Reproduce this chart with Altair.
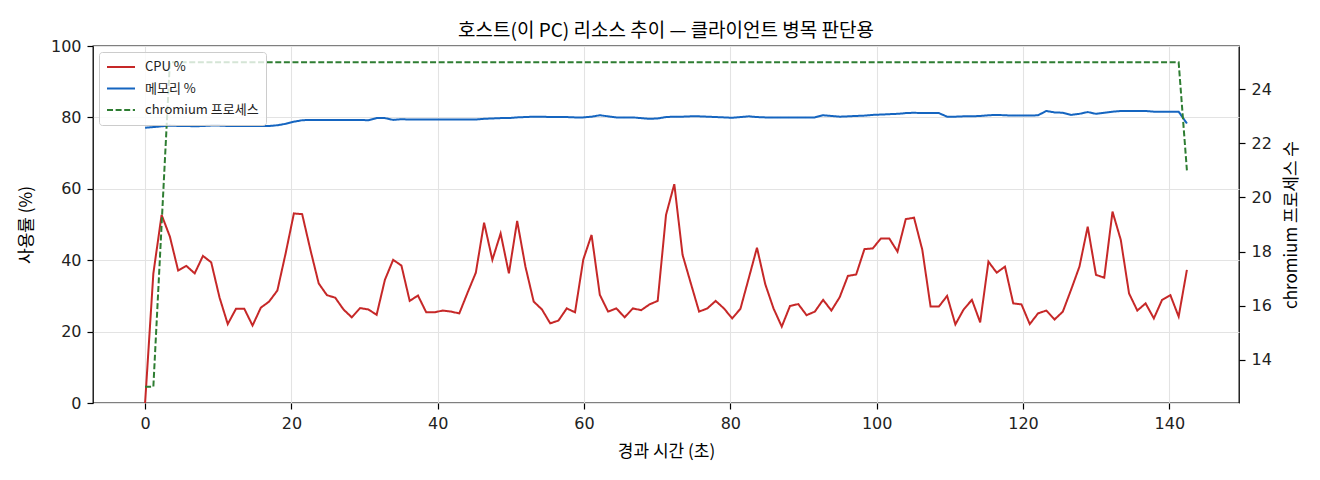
import pandas as pd
import altair as alt

FONT = "Noto Sans CJK KR"
NUM_FONT = "DejaVu Sans"

# elapsed seconds for each sample
elapsed = [
    0.0, 1.13, 2.26, 3.39, 4.52, 5.65, 6.78, 7.91, 9.04, 10.17,
    11.30, 12.43, 13.56, 14.69, 15.82, 16.95, 18.08, 19.21, 20.34, 21.47,
    22.60, 23.73, 24.86, 25.99, 27.12, 28.25, 29.39, 30.52, 31.65, 32.78,
    33.91, 35.04, 36.17, 37.30, 38.43, 39.56, 40.69, 41.82, 42.95, 44.08,
    45.21, 46.34, 47.47, 48.60, 49.73, 50.86, 51.99, 53.12, 54.25, 55.38,
    56.51, 57.64, 58.77, 59.90, 61.03, 62.16, 63.29, 64.42, 65.55, 66.68,
    67.81, 68.94, 70.07, 71.21, 72.34, 73.47, 74.60, 75.73, 76.86, 77.99,
    79.12, 80.25, 81.38, 82.51, 83.64, 84.77, 85.90, 87.03, 88.16, 89.29,
    90.42, 91.55, 92.68, 93.81, 94.94, 96.07, 97.20, 98.33, 99.46, 100.59,
    101.72, 102.85, 103.98, 105.11, 106.24, 107.37, 108.50, 109.63, 110.76, 111.89,
    113.02, 114.15, 115.28, 116.41, 117.54, 118.67, 119.80, 120.93, 122.06, 123.19,
    124.32, 125.45, 126.59, 127.72, 128.85, 129.98, 131.11, 132.24, 133.37, 134.50,
    135.63, 136.76, 137.89, 139.02, 140.15, 141.28, 142.41,
]

cpu = [
    0.0, 36.3, 52.7, 46.6, 37.1, 38.4, 36.3, 41.2, 39.4, 29.6,
    22.1, 26.4, 26.4, 21.7, 26.7, 28.4, 31.5, 41.9, 53.1, 52.9,
    42.9, 33.5, 30.2, 29.5, 26.2, 24.0, 26.6, 26.2, 24.7, 34.5,
    40.1, 38.5, 28.6, 30.1, 25.4, 25.4, 25.9, 25.6, 25.1, 30.9,
    36.5, 50.5, 40.1, 47.5, 36.3, 51.0, 38.2, 28.4, 26.2, 22.3,
    23.1, 26.5, 25.4, 40.2, 47.1, 30.3, 25.6, 26.5, 24.0, 26.5,
    26.0, 27.6, 28.6, 52.7, 61.3, 41.5, 33.5, 25.6, 26.5, 28.6,
    26.5, 23.7, 26.4, 34.9, 43.5, 33.3, 26.5, 21.4, 27.2, 27.7,
    24.6, 25.6, 28.9, 25.9, 29.6, 35.6, 36.0, 43.1, 43.3, 46.1,
    46.1, 42.4, 51.5, 51.9, 42.9, 27.0, 27.0, 30.0, 22.0, 26.2,
    28.9, 22.6, 39.6, 36.5, 38.2, 27.9, 27.6, 22.1, 25.1, 25.9,
    23.4, 25.6, 31.8, 38.2, 49.4, 35.9, 35.1, 53.6, 45.7, 30.7,
    25.9, 27.9, 23.7, 28.9, 30.2, 24.2, 37.3,
]

memory = [
    77.1, 77.3, 77.5, 77.7, 77.6, 77.6, 77.5, 77.6, 77.7, 77.7,
    77.6, 77.6, 77.6, 77.6, 77.6, 77.6, 77.8, 78.2, 78.8, 79.2,
    79.3, 79.3, 79.3, 79.3, 79.3, 79.3, 79.3, 79.2, 79.8, 79.8,
    79.3, 79.5, 79.4, 79.4, 79.4, 79.4, 79.4, 79.4, 79.4, 79.4,
    79.4, 79.6, 79.7, 79.8, 79.8, 80.0, 80.1, 80.2, 80.2, 80.1,
    80.1, 80.1, 80.0, 80.0, 80.2, 80.6, 80.3, 80.0, 80.0, 80.0,
    79.8, 79.6, 79.7, 80.1, 80.2, 80.2, 80.3, 80.3, 80.2, 80.1,
    80.0, 79.9, 80.1, 80.3, 80.1, 80.0, 80.0, 80.0, 80.0, 80.0,
    80.0, 80.0, 80.6, 80.4, 80.2, 80.3, 80.4, 80.5, 80.7, 80.8,
    80.9, 81.0, 81.2, 81.3, 81.2, 81.2, 81.2, 80.2, 80.2, 80.3,
    80.3, 80.4, 80.6, 80.7, 80.6, 80.5, 80.5, 80.5, 80.6, 81.8,
    81.4, 81.3, 80.7, 81.0, 81.5, 81.0, 81.3, 81.6, 81.8, 81.8,
    81.8, 81.8, 81.6, 81.6, 81.6, 81.6, 78.3,
]

chromium = [13, 13, 19] + [25] * 123 + [21]

series_names = ["CPU %", "메모리 %", "chromium 프로세스"]
series_colors = ["#c62828", "#1565c0", "#2e7d32"]
series_dash = [[1, 0], [1, 0], [6, 2.6]]

pct = pd.concat(
    [
        pd.DataFrame({"t": elapsed, "value": cpu, "series": series_names[0]}),
        pd.DataFrame({"t": elapsed, "value": memory, "series": series_names[1]}),
    ]
)
proc = pd.DataFrame({"t": elapsed, "count": chromium, "series": series_names[2]})

x_enc = alt.X(
    "t:Q",
    title="경과 시간 (초)",
    scale=alt.Scale(domain=[-7.12, 149.53], nice=False, zero=False),
    axis=alt.Axis(values=list(range(0, 141, 20)), grid=True, titlePadding=12),
)
color_enc = alt.Color(
    "series:N",
    scale=alt.Scale(domain=series_names, range=series_colors),
    legend=alt.Legend(title=None),
)
dash_enc = alt.StrokeDash(
    "series:N",
    scale=alt.Scale(domain=series_names, range=series_dash),
    legend=alt.Legend(title=None),
)

left = (
    alt.Chart(pct)
    .mark_line(strokeWidth=2)
    .encode(
        x_enc,
        alt.Y(
            "value:Q",
            title="사용률 (%)",
            scale=alt.Scale(domain=[0, 100], nice=False),
            axis=alt.Axis(values=list(range(0, 101, 20)), grid=True, titlePadding=15),
        ),
        color_enc,
        dash_enc,
    )
)

right = (
    alt.Chart(proc)
    .mark_line(strokeWidth=2)
    .encode(
        x_enc,
        alt.Y(
            "count:Q",
            title="chromium 프로세스 수",
            scale=alt.Scale(domain=[12.4, 25.6], nice=False, zero=False),
            axis=alt.Axis(
                orient="right",
                values=list(range(14, 25, 2)),
                grid=False,
                titleAngle=270,
                titlePadding=29,
            ),
        ),
        color_enc,
        dash_enc,
    )
)

chart = (
    alt.layer(left, right)
    .resolve_scale(y="independent")
    .properties(
        width=1146,
        height=357,
        autosize=alt.AutoSizeParams(type="none"),
        padding={"left": 85, "top": 38, "right": 73, "bottom": 69},
        title=alt.TitleParams(
            "호스트(이 PC) 리소스 추이 — 클라이언트 병목 판단용",
            font=FONT,
            fontSize=19,
            fontWeight="normal",
            color="#000000",
            offset=1,
            dy=4,
        ),
    )
    .configure_view(stroke="#000000", strokeWidth=1.3)
    .configure_axis(
        domain=False,
        labelFont=NUM_FONT,
        labelFontSize=16,
        labelColor="#222222",
        labelPadding=6,
        tickColor="#000000",
        tickSize=6,
        tickWidth=1.2,
        titleFont=FONT,
        titleFontSize=17,
        titleFontWeight="normal",
        titleColor="#000000",
        gridColor="#e3e3e3",
        gridWidth=1.1,
    )
    .configure_legend(
        orient="none",
        legendX=6,
        legendY=6,
        fillColor="rgba(255,255,255,0.8)",
        strokeColor="#cccccc",
        cornerRadius=3,
        padding=7,
        symbolType="stroke",
        symbolSize=784,
        symbolStrokeWidth=2,
        clipHeight=16,
        rowPadding=5.5,
        labelFont=FONT,
        labelFontSize=13,
        labelColor="#222222",
        labelOffset=9,
    )
)

chart.save("out.html", embed_options={"renderer": "svg", "actions": False})
